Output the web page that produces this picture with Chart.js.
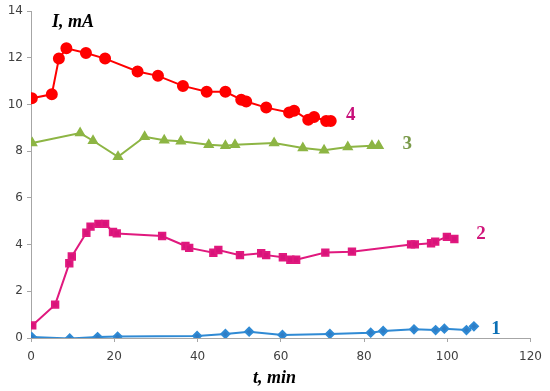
<!DOCTYPE html>
<html>
<head>
<meta charset="utf-8">
<script src="https://cdn.jsdelivr.net/npm/chart.js@4/dist/chart.umd.min.js"></script>
<style>
    html, body { margin:0; padding:0; background:#fff; }
    #wrap { width:550px; height:391px; position:relative; }
</style>
</head>
<body>
<div id="wrap"><canvas id="chart"></canvas></div>
<script>

// curve 1 (blue diamonds)
const t1 = [0.2, 9.3, 16, 20.8, 39.9, 46.7, 52.4, 60.4, 71.8, 81.6, 84.6, 92, 97.2, 99.3, 104.6, 106.4];
const i1 = [0.04, -0.02, 0.04, 0.06, 0.09, 0.17, 0.27, 0.13, 0.17, 0.23, 0.3, 0.37, 0.34, 0.4, 0.34, 0.5];

// curve 2 (magenta squares)
const t2 = [0.3, 5.8, 9.2, 9.8, 13.3, 14.3, 16.2, 17.8, 19.7, 20.6, 31.5, 37.1, 38, 43.8, 45, 50.2, 55.3, 56.5, 60.5, 62.3, 63.7, 70.7, 77.1, 91.3, 92.2, 96.1, 97.1, 99.9, 101.7];
const i2 = [0.54, 1.43, 3.2, 3.49, 4.51, 4.77, 4.89, 4.89, 4.54, 4.48, 4.37, 3.94, 3.86, 3.65, 3.77, 3.55, 3.63, 3.55, 3.46, 3.35, 3.35, 3.66, 3.7, 4.01, 4.01, 4.06, 4.13, 4.33, 4.24];

// curve 3 (green triangles)
const t3 = [0.3, 11.8, 14.9, 20.9, 27.3, 32, 36, 42.7, 46.7, 49, 58.4, 65.3, 70.4, 76.1, 81.9, 83.5];
const i3 = [8.35, 8.78, 8.45, 7.76, 8.62, 8.47, 8.43, 8.28, 8.24, 8.28, 8.35, 8.14, 8.04, 8.18, 8.24, 8.24];

// curve 4 (red circles)
const t4 = [0.2, 5, 6.7, 8.5, 13.2, 17.8, 25.6, 30.5, 36.5, 42.2, 46.7, 50.5, 51.7, 56.5, 62, 63.2, 66.6, 68, 70.9, 72];
const i4 = [10.27, 10.44, 11.97, 12.41, 12.21, 11.97, 11.42, 11.23, 10.8, 10.55, 10.55, 10.21, 10.13, 9.87, 9.66, 9.74, 9.35, 9.47, 9.3, 9.3];

// curve number labels and where they sit (data coords)
const curveNames = ['1', '2', '3', '4'];
const nameT = [111.7, 108.1, 90.4, 76.8];
const nameI = [0.38, 4.43, 8.3, 9.53];
const nameColors = ['#0a6fb5', '#d0157a', '#7a9a4a', '#c8107a'];

const xTicks = [0, 20, 40, 60, 80, 100, 120];
const yTicks = [0, 2, 4, 6, 8, 10, 12, 14];

function pts(xs, ys) {
    return xs.map((x, k) => ({ x: x, y: ys[k] }));
}

const labelsPlugin = {
    id: 'curveLabels',
    afterDatasetsDraw(chart) {
        const ctx = chart.ctx;
        const xs = chart.scales.x;
        const ys = chart.scales.y;
        ctx.save();
        ctx.font = 'bold 19px "Liberation Serif", "Times New Roman", serif';
        ctx.textAlign = 'center';
        ctx.textBaseline = 'middle';
        curveNames.forEach((n, k) => {
            ctx.fillStyle = nameColors[k];
            ctx.fillText(n, xs.getPixelForValue(nameT[k]), ys.getPixelForValue(nameI[k]));
        });

        // axis titles
        ctx.fillStyle = '#000';
        ctx.font = 'italic bold 18px "Liberation Serif", "Times New Roman", serif';
        ctx.textAlign = 'left';
        ctx.fillText('I, mA', 52, 22);
        ctx.fillText('t, min', 253, 378);
        ctx.restore();
    }
};

new Chart(document.getElementById('chart').getContext('2d'), {
    type: 'line',
    data: {
        datasets: [
            {
                data: pts(t4, i4),
                borderColor: '#ff0000',
                backgroundColor: '#ff0000',
                borderWidth: 2,
                pointStyle: 'circle',
                pointRadius: 5
            },
            {
                data: pts(t3, i3),
                borderColor: '#8db544',
                backgroundColor: '#8db544',
                borderWidth: 2,
                pointStyle: 'triangle',
                pointRadius: 4.5
            },
            {
                data: pts(t2, i2),
                borderColor: '#e0197e',
                backgroundColor: '#d8137a',
                borderWidth: 2,
                pointStyle: 'rect',
                pointRadius: 4.5
            },
            {
                data: pts(t1, i1),
                borderColor: '#2f8ad4',
                backgroundColor: '#2f7cc4',
                borderWidth: 2,
                pointStyle: 'rectRot',
                pointRadius: 4
            }
        ]
    },
    options: {
        responsive: true,
        maintainAspectRatio: false,
        animation: false,
        layout: { padding: { left: 0, right: 18, top: 9, bottom: 0 } },
        plugins: {
            legend: { display: false },
            tooltip: { enabled: false }
        },
        scales: {
            x: {
                type: 'linear',
                min: 0,
                max: 120,
                afterBuildTicks(scale) {
                    scale.ticks = xTicks.map(v => ({ value: v }));
                },
                afterFit(scale) { scale.height = 53; },
                grid: {
                    drawOnChartArea: false,
                    drawTicks: true,
                    tickLength: 4,
                    color: '#a6a6a6'
                },
                border: { color: '#a6a6a6', width: 1 },
                ticks: {
                    color: '#404040',
                    padding: 8,
                    maxRotation: 0,
                    font: { family: '"DejaVu Sans", Verdana, sans-serif', size: 12 }
                }
            },
            y: {
                min: 0,
                max: 14,
                afterBuildTicks(scale) {
                    scale.ticks = yTicks.map(v => ({ value: v }));
                },
                afterFit(scale) { scale.width = 31; },
                grid: {
                    drawOnChartArea: false,
                    drawTicks: true,
                    tickLength: 4,
                    color: '#a6a6a6'
                },
                border: { color: '#a6a6a6', width: 1 },
                ticks: {
                    color: '#404040',
                    padding: 4,
                    font: { family: '"DejaVu Sans", Verdana, sans-serif', size: 12 }
                }
            }
        }
    },
    plugins: [labelsPlugin]
});
</script>
</body>
</html>
